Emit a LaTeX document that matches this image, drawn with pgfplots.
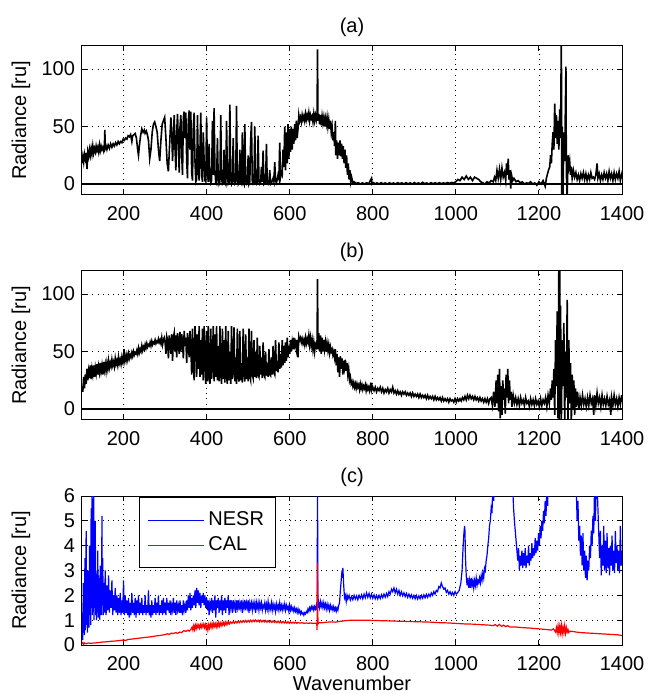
\documentclass[border=0pt]{standalone}
\usepackage{fontspec}
\setmainfont{Liberation Sans}
\usepackage{pgfplots}
\pgfplotsset{compat=1.18}
\usepackage{pgfplotstable}

% panel (a): radiance spectrum
\pgfplotstableread[row sep=\\]{
x y\\
100 18\\ 102 24\\ 104 19\\ 106 26\\ 108 22\\ 110 27\\ 112 13\\ 114 28\\ 116 24\\ 118 30\\ 120 25\\ 122 31\\ 124 26\\ 126 33\\ 128 27\\ 130 31\\
132 28\\ 134 33\\ 136 29\\ 138 32\\ 140 28\\ 142 34\\ 144 29\\ 146 33\\ 148 30\\ 150 32\\ 152 29\\ 154 34\\ 155 47\\ 156 31\\ 158 33\\ 160 30\\
163 34\\ 166 31\\ 169 35\\ 172 32\\ 175 35\\ 178 33\\ 181 36\\ 184 34\\ 187 37\\ 190 35\\ 193 37\\ 196 36\\ 199 39\\ 202 38\\ 205 40\\ 208 39\\
211 42\\ 214 41\\ 217 43\\ 220 37\\ 222 42\\ 225 43\\ 228 44\\ 231 40\\ 234 30\\ 236 25\\ 238 33\\ 241 42\\ 244 48\\ 247 45\\ 250 47\\ 252 44\\
255 46\\ 258 42\\ 260 38\\ 263 22\\ 266 30\\ 269 45\\ 272 52\\ 275 54\\ 278 50\\ 281 45\\ 284 30\\ 287 20\\ 290 38\\ 293 52\\ 296 55\\ 299 58\\
302 40\\ 305 18\\ 308 11\\ 311 35\\ 314 58\\ 316 45\\ 318 20\\ 320 40\\ 322 60\\ 324 30\\ 326 12\\ 328 45\\ 330 61\\ 332 35\\ 334 10\\ 336 50\\
338 60\\ 340 25\\ 342 8\\ 344 58\\ 346 63\\ 348 40\\ 350 62\\ 352 20\\ 354 5\\ 356 55\\ 358 64\\ 360 30\\ 362 63\\ 364 10\\ 366 3\\ 368 50\\
370 62\\ 372 20\\ 374 2\\ 376 4\\ 378 60\\ 380 15\\ 382 3\\ 384 30\\ 386 62\\ 388 8\\ 390 2\\ 392 45\\ 394 20\\ 396 3\\ 398 2\\ 400 58\\
402 10\\ 404 2\\ 406 35\\ 408 5\\ 410 1\\ 412 3\\ 414 55\\ 416 8\\ 418 66\\ 420 12\\ 422 1\\ 424 0\\ 426 40\\ 428 5\\ 430 0\\ 432 2\\
434 60\\ 436 5\\ 438 0\\ 440 1\\ 442 30\\ 444 2\\ 446 0\\ 448 55\\ 450 8\\ 452 0\\ 454 1\\ 456 69\\ 458 4\\ 460 0\\ 462 2\\ 464 40\\
466 3\\ 468 0\\ 470 1\\ 472 68\\ 474 5\\ 476 0\\ 478 2\\ 480 30\\ 482 1\\ 484 0\\ 486 45\\ 488 2\\ 490 0\\ 492 52\\ 494 3\\ 496 0\\
498 1\\ 500 25\\ 502 0\\ 504 2\\ 506 38\\ 508 54\\ 510 2\\ 512 0\\ 514 1\\ 516 50\\ 518 2\\ 520 0\\ 522 1\\ 524 42\\ 526 3\\ 528 0\\
530 1\\ 532 15\\ 534 2\\ 536 29\\ 538 0\\ 540 1\\ 542 2\\ 544 35\\ 546 1\\ 548 0\\ 550 2\\ 552 12\\ 554 0\\ 556 1\\ 558 3\\ 560 5\\
562 2\\ 564 19\\ 566 3\\ 568 1\\ 570 4\\ 572 8\\ 574 5\\ 576 36\\ 578 6\\ 580 10\\ 582 8\\ 584 30\\ 586 15\\ 588 50\\ 590 12\\ 592 45\\
594 18\\ 596 52\\ 598 22\\ 600 48\\ 602 28\\ 604 50\\ 606 30\\ 608 48\\ 610 35\\ 612 52\\ 614 38\\ 616 55\\ 618 40\\ 620 48\\ 622 60\\ 624 55\\
626 58\\ 628 54\\ 630 60\\ 632 56\\ 634 59\\ 636 55\\ 638 61\\ 640 56\\ 642 60\\ 644 57\\ 646 62\\ 648 55\\ 650 60\\ 652 57\\ 654 59\\ 656 54\\
658 61\\ 660 55\\ 662 60\\ 664 56\\ 666 62\\ 667 117\\ 668 55\\ 670 61\\ 672 52\\ 674 60\\ 676 51\\ 678 59\\ 680 53\\ 682 58\\ 684 50\\ 686 57\\
688 52\\ 690 58\\ 692 50\\ 694 56\\ 696 48\\ 698 55\\ 700 45\\ 702 50\\ 704 38\\ 706 45\\ 708 33\\ 710 55\\ 711 25\\ 713 38\\ 715 22\\ 717 36\\
719 25\\ 721 38\\ 723 24\\ 725 35\\ 727 22\\ 729 33\\ 731 18\\ 733 30\\ 735 14\\ 737 25\\ 739 8\\ 741 18\\ 743 4\\ 745 12\\ 747 2\\ 749 6\\
752 1\\ 755 2\\ 760 0.5\\ 765 1.2\\ 770 0\\ 775 1\\ 780 0.2\\ 785 1.1\\ 790 0.3\\ 797 5\\ 798 0\\ 802 1.2\\ 806 0.1\\ 810 1\\ 815 0\\ 820 1.2\\
825 0.2\\ 830 1\\ 835 0\\ 840 1.1\\ 845 0.2\\ 850 1\\ 855 0\\ 860 1.2\\ 865 0.3\\ 870 1\\ 875 0\\ 880 1.2\\ 885 0.2\\ 890 1\\ 895 0\\ 900 1.3\\
905 0.2\\ 910 1\\ 915 0\\ 920 1.5\\ 925 0.3\\ 930 1\\ 935 0\\ 940 1.2\\ 945 0.3\\ 950 1.1\\ 955 0.2\\ 960 1.2\\ 965 0.4\\ 970 1\\ 975 0.5\\ 980 1.3\\
985 0.6\\ 990 1.4\\ 995 1\\ 1000 2\\ 1005 4\\ 1010 3\\ 1015 6\\ 1020 4\\ 1025 7\\ 1030 4\\ 1035 6\\ 1040 3\\ 1045 6\\ 1050 5\\ 1055 4\\ 1060 2\\
1065 1\\ 1070 0\\ 1075 2\\ 1080 1\\ 1085 3\\ 1090 2\\ 1093 6\\ 1096 3\\ 1099 12\\ 1102 5\\ 1105 13\\ 1108 4\\ 1111 14\\ 1114 6\\ 1117 10\\ 1120 3\\
1122 18\\ 1124 8\\ 1126 22\\ 1128 4\\ 1130 12\\ 1132 -4\\ 1134 8\\ 1137 3\\ 1140 5\\ 1145 2\\ 1150 3\\ 1155 1\\ 1160 2\\ 1165 0\\ 1170 1\\ 1175 0.5\\
1180 2\\ 1185 0\\ 1190 1\\ 1195 -1\\ 1200 2\\ 1205 0\\ 1210 3\\ 1215 -2\\ 1218 5\\ 1220 8\\ 1223 12\\ 1226 15\\ 1228 25\\ 1230 18\\ 1232 35\\ 1234 45\\
1236 30\\ 1238 70\\ 1240 40\\ 1242 60\\ 1244 35\\ 1246 55\\ 1248 30\\ 1250 65\\ 1252 40\\ 1254 130\\ 1255 -12\\ 1256 50\\ 1258 -12\\ 1260 45\\ 1262 20\\ 1265 102\\
1266 10\\ 1268 -12\\ 1270 25\\ 1272 15\\ 1274 20\\ 1276 8\\ 1278 15\\ 1280 5\\ 1283 12\\ 1286 6\\ 1289 10\\ 1292 4\\ 1295 8\\ 1298 3\\ 1301 9\\ 1304 5\\
1307 10\\ 1310 4\\ 1313 9\\ 1316 3\\ 1319 8\\ 1322 4\\ 1325 10\\ 1328 5\\ 1331 6\\ 1334 4\\ 1337 8\\ 1340 18\\ 1342 5\\ 1345 9\\ 1348 3\\ 1351 8\\
1354 4\\ 1357 10\\ 1360 5\\ 1363 9\\ 1366 3\\ 1369 11\\ 1372 5\\ 1375 9\\ 1378 3\\ 1381 10\\ 1384 4\\ 1387 9\\ 1390 5\\ 1393 11\\ 1396 3\\ 1399 8\\
1400 5\\
}\radA

% panel (b): radiance spectrum
\pgfplotstableread[row sep=\\]{
x y\\
100 20\\ 102 15\\ 104 28\\ 106 18\\ 108 30\\ 110 22\\ 112 35\\ 114 25\\ 116 33\\ 118 27\\ 120 38\\ 122 26\\ 124 35\\ 126 30\\ 128 38\\ 130 28\\
132 36\\ 134 31\\ 136 39\\ 138 30\\ 140 37\\ 142 32\\ 144 40\\ 146 33\\ 148 38\\ 150 30\\ 152 41\\ 154 34\\ 156 39\\ 158 33\\ 160 40\\ 162 35\\
164 42\\ 166 36\\ 168 40\\ 170 37\\ 172 43\\ 174 38\\ 176 41\\ 178 37\\ 180 44\\ 182 39\\ 184 42\\ 186 38\\ 188 45\\ 190 40\\ 192 43\\ 194 39\\
196 45\\ 198 41\\ 200 44\\ 201 52\\ 202 42\\ 204 46\\ 206 42\\ 208 47\\ 210 43\\ 212 48\\ 214 44\\ 216 47\\ 218 45\\ 220 49\\ 222 46\\ 224 50\\
226 47\\ 228 49\\ 230 48\\ 232 51\\ 234 48\\ 236 53\\ 238 49\\ 240 52\\ 242 50\\ 244 55\\ 246 51\\ 248 54\\ 250 52\\ 252 56\\ 254 53\\ 256 57\\
258 54\\ 260 56\\ 262 55\\ 264 58\\ 266 55\\ 268 59\\ 270 56\\ 272 58\\ 274 57\\ 276 60\\ 278 57\\ 280 59\\ 282 58\\ 284 61\\ 286 58\\ 288 60\\
290 57\\ 292 62\\ 294 56\\ 296 60\\ 298 62\\ 300 58\\ 302 48\\ 304 63\\ 306 60\\ 308 44\\ 310 64\\ 312 58\\ 314 48\\ 316 65\\ 318 42\\ 320 62\\
322 66\\ 324 50\\ 326 64\\ 328 45\\ 330 66\\ 332 60\\ 334 48\\ 336 67\\ 338 50\\ 340 65\\ 342 58\\ 344 44\\ 346 68\\ 348 55\\ 350 62\\ 352 40\\
354 66\\ 356 58\\ 358 45\\ 360 68\\ 362 55\\ 364 30\\ 366 70\\ 368 40\\ 370 25\\ 372 72\\ 374 60\\ 376 28\\ 378 65\\ 380 35\\ 382 72\\ 384 28\\
386 60\\ 388 30\\ 390 70\\ 392 25\\ 394 72\\ 396 40\\ 398 22\\ 400 68\\ 402 24\\ 404 72\\ 406 30\\ 408 22\\ 410 70\\ 412 26\\ 414 40\\ 416 72\\
418 24\\ 420 65\\ 422 28\\ 424 72\\ 426 25\\ 428 55\\ 430 24\\ 432 72\\ 434 30\\ 436 22\\ 438 70\\ 440 26\\ 442 60\\ 444 23\\ 446 72\\ 448 28\\
450 22\\ 452 68\\ 454 25\\ 456 50\\ 458 22\\ 460 72\\ 462 26\\ 464 35\\ 466 71\\ 468 24\\ 470 45\\ 472 22\\ 474 70\\ 476 28\\ 478 24\\ 480 68\\
482 25\\ 484 40\\ 486 23\\ 488 70\\ 490 30\\ 492 24\\ 494 65\\ 496 26\\ 498 45\\ 500 24\\ 502 70\\ 504 28\\ 506 25\\ 508 68\\ 510 30\\ 512 27\\
514 60\\ 516 28\\ 518 50\\ 520 27\\ 522 62\\ 524 30\\ 526 28\\ 528 55\\ 530 30\\ 532 45\\ 534 27\\ 536 58\\ 538 30\\ 540 28\\ 542 50\\ 544 29\\
546 40\\ 548 28\\ 550 52\\ 552 30\\ 554 29\\ 556 45\\ 558 30\\ 560 55\\ 562 32\\ 564 30\\ 566 60\\ 568 33\\ 570 42\\ 572 32\\ 574 58\\ 576 35\\
578 48\\ 580 36\\ 582 60\\ 584 38\\ 586 55\\ 588 40\\ 590 58\\ 592 42\\ 594 62\\ 596 45\\ 598 55\\ 600 48\\ 602 60\\ 604 50\\ 606 58\\ 608 52\\
610 62\\ 612 55\\ 614 58\\ 616 52\\ 618 60\\ 620 45\\ 622 63\\ 624 60\\ 626 62\\ 628 58\\ 630 61\\ 632 57\\ 634 60\\ 636 56\\ 638 62\\ 640 57\\
642 61\\ 644 58\\ 646 64\\ 648 56\\ 650 62\\ 652 55\\ 654 60\\ 656 52\\ 658 58\\ 660 50\\ 662 56\\ 664 54\\ 666 60\\ 667 113\\ 668 52\\ 670 66\\
672 50\\ 674 64\\ 676 48\\ 678 62\\ 680 50\\ 682 60\\ 684 52\\ 686 58\\ 688 50\\ 690 57\\ 692 51\\ 694 56\\ 696 49\\ 698 54\\ 700 50\\ 702 52\\
704 47\\ 706 50\\ 708 45\\ 710 52\\ 712 38\\ 714 48\\ 716 32\\ 718 45\\ 720 28\\ 722 46\\ 724 35\\ 726 44\\ 728 30\\ 730 42\\ 732 36\\ 734 43\\
736 33\\ 738 40\\ 740 30\\ 742 35\\ 744 25\\ 746 28\\ 748 22\\ 750 24\\ 752 20\\ 754 23\\ 756 19\\ 758 22\\ 760 18\\ 762 22\\ 764 19\\ 766 21\\
768 17\\ 770 22\\ 772 18\\ 774 21\\ 776 17\\ 778 20\\ 780 18\\ 782 21\\ 784 16\\ 786 20\\ 788 17\\ 790 19\\ 792 16\\ 794 20\\ 796 17\\ 797 23\\
798 17\\ 800 19\\ 803 16\\ 806 19\\ 809 15\\ 812 18\\ 815 16\\ 818 19\\ 821 15\\ 824 18\\ 827 14\\ 830 17\\ 833 15\\ 836 18\\ 839 14\\ 842 17\\
845 15\\ 848 19\\ 851 14\\ 854 16\\ 857 13\\ 860 16\\ 863 13\\ 866 15\\ 869 12\\ 872 15\\ 875 13\\ 878 15\\ 881 12\\ 884 14\\ 887 12\\ 890 14\\
893 11\\ 896 14\\ 899 11\\ 902 13\\ 905 11\\ 908 13\\ 911 10\\ 914 13\\ 917 10\\ 920 12\\ 923 10\\ 926 12\\ 929 9\\ 932 12\\ 935 9\\ 938 11\\
941 9\\ 944 11\\ 947 8\\ 950 11\\ 953 8\\ 956 10\\ 959 8\\ 962 10\\ 965 7\\ 968 10\\ 971 7\\ 974 9\\ 977 7\\ 980 9\\ 983 6\\ 986 9\\
989 7\\ 992 8\\ 995 6\\ 998 9\\ 1001 6\\ 1004 9\\ 1007 7\\ 1010 9\\ 1013 7\\ 1016 10\\ 1019 8\\ 1022 11\\ 1025 8\\ 1028 12\\ 1031 9\\ 1034 12\\
1037 9\\ 1040 11\\ 1043 8\\ 1046 11\\ 1049 8\\ 1052 10\\ 1055 7\\ 1058 10\\ 1061 7\\ 1064 9\\ 1067 6\\ 1070 9\\ 1073 6\\ 1076 9\\ 1079 5\\ 1082 9\\
1085 10\\ 1088 3\\ 1091 15\\ 1094 2\\ 1097 25\\ 1099 5\\ 1101 30\\ 1103 -2\\ 1105 35\\ 1107 -8\\ 1109 20\\ 1111 -5\\ 1113 25\\ 1115 8\\ 1117 18\\ 1119 -4\\
1121 30\\ 1123 10\\ 1125 35\\ 1127 5\\ 1129 25\\ 1131 8\\ 1133 15\\ 1135 2\\ 1138 12\\ 1141 5\\ 1144 10\\ 1147 4\\ 1150 9\\ 1153 3\\ 1156 10\\ 1159 5\\
1162 8\\ 1165 3\\ 1168 10\\ 1171 5\\ 1174 7\\ 1177 2\\ 1180 9\\ 1183 4\\ 1186 8\\ 1189 3\\ 1192 9\\ 1195 4\\ 1198 7\\ 1201 2\\ 1204 9\\ 1207 3\\
1210 8\\ 1213 5\\ 1216 10\\ 1219 2\\ 1222 12\\ 1225 5\\ 1228 18\\ 1230 8\\ 1232 25\\ 1234 10\\ 1236 35\\ 1238 -5\\ 1240 60\\ 1242 20\\ 1244 85\\ 1246 -8\\
1248 130\\ 1249 -12\\ 1250 130\\ 1251 0\\ 1252 90\\ 1254 -12\\ 1256 60\\ 1258 20\\ 1260 75\\ 1262 -12\\ 1264 50\\ 1266 10\\ 1268 95\\ 1270 -12\\ 1272 60\\ 1274 5\\
1276 40\\ 1278 -12\\ 1280 30\\ 1282 0\\ 1284 25\\ 1286 -5\\ 1288 18\\ 1290 2\\ 1293 15\\ 1296 0\\ 1299 10\\ 1302 3\\ 1305 12\\ 1308 4\\ 1311 9\\ 1314 2\\
1317 10\\ 1320 3\\ 1323 12\\ 1326 5\\ 1329 9\\ 1332 -5\\ 1334 12\\ 1337 3\\ 1340 14\\ 1343 5\\ 1346 10\\ 1349 2\\ 1352 12\\ 1355 4\\ 1358 9\\ 1361 3\\
1364 11\\ 1367 4\\ 1370 8\\ 1373 -5\\ 1375 10\\ 1378 3\\ 1381 12\\ 1384 4\\ 1387 9\\ 1390 2\\ 1393 10\\ 1396 4\\ 1399 12\\ 1400 6\\
}\radB

% panel (c): NESR
\pgfplotstableread[row sep=\\]{
x y\\
100 0.3\\ 101 1.3\\ 102 0.2\\ 103 2.5\\ 104 0.5\\ 105 1.8\\ 106 0.4\\ 107 3.5\\ 108 0.6\\ 109 2.2\\ 110 4.6\\ 111 0.8\\ 112 2.0\\ 113 0.5\\ 114 3.0\\ 115 1.0\\
116 2.5\\ 117 0.7\\ 118 4.0\\ 119 1.2\\ 120 3.5\\ 121 0.8\\ 122 5.5\\ 123 1.5\\ 124 6.2\\ 125 1.2\\ 126 4.5\\ 127 2.0\\ 128 6.2\\ 129 1.0\\ 130 3.5\\ 131 1.5\\
132 5.0\\ 133 1.2\\ 134 3.0\\ 135 1.0\\ 136 2.6\\ 137 1.3\\ 138 3.8\\ 139 1.1\\ 140 2.8\\ 141 1.5\\ 142 2.5\\ 143 1.0\\ 144 3.2\\ 145 1.3\\ 146 2.6\\ 147 1.2\\
148 5.2\\ 149 1.6\\ 150 3.5\\ 151 1.2\\ 152 2.5\\ 154 1.3\\ 156 3.0\\ 158 1.2\\ 160 2.4\\ 162 1.4\\ 164 2.8\\ 166 1.3\\ 168 2.2\\ 170 1.5\\ 172 2.6\\ 174 1.2\\
176 2.0\\ 178 1.4\\ 180 2.3\\ 182 1.3\\ 184 2.0\\ 186 1.2\\ 188 1.9\\ 190 1.3\\ 192 2.1\\ 194 1.2\\ 196 1.8\\ 198 1.3\\ 200 2.6\\ 202 1.2\\ 204 2.0\\ 206 1.3\\
208 1.8\\ 210 1.2\\ 212 1.9\\ 214 1.1\\ 216 1.7\\ 218 1.2\\ 220 2.1\\ 222 1.3\\ 224 1.7\\ 226 1.2\\ 228 1.9\\ 230 1.1\\ 232 1.8\\ 234 1.3\\ 236 2.0\\ 238 1.2\\
240 1.7\\ 242 1.3\\ 244 1.9\\ 246 1.2\\ 248 1.6\\ 250 1.3\\ 252 2.0\\ 254 1.2\\ 256 1.6\\ 258 1.3\\ 260 2.2\\ 262 1.2\\ 264 1.6\\ 266 1.1\\ 268 1.8\\ 270 1.2\\
272 1.6\\ 274 1.3\\ 276 1.9\\ 278 1.2\\ 280 1.7\\ 282 1.3\\ 284 2.0\\ 286 1.2\\ 288 1.6\\ 290 1.3\\ 292 1.8\\ 294 1.2\\ 296 1.9\\ 298 1.3\\ 300 1.7\\ 302 1.2\\
304 1.9\\ 306 1.4\\ 308 1.7\\ 310 1.3\\ 312 1.8\\ 314 1.2\\ 316 1.6\\ 318 1.4\\ 320 1.9\\ 322 1.3\\ 324 1.7\\ 326 1.2\\ 328 1.8\\ 330 1.4\\ 332 1.6\\ 334 1.3\\
336 1.8\\ 338 1.3\\ 340 1.6\\ 342 1.2\\ 344 1.8\\ 346 1.4\\ 348 1.6\\ 350 1.3\\ 352 1.8\\ 354 1.4\\ 356 2.0\\ 358 1.5\\ 360 2.1\\ 362 1.4\\ 364 1.9\\ 366 1.5\\
368 2.0\\ 370 1.6\\ 372 2.2\\ 374 1.5\\ 376 2.3\\ 378 1.7\\ 380 2.2\\ 382 1.6\\ 384 2.1\\ 386 1.5\\ 388 2.0\\ 390 1.7\\ 392 2.1\\ 394 1.6\\ 396 2.0\\ 398 1.5\\
400 1.9\\ 402 1.4\\ 404 1.8\\ 406 1.2\\ 408 1.7\\ 410 1.5\\ 412 1.9\\ 414 1.3\\ 416 1.8\\ 418 1.4\\ 420 2.0\\ 422 1.1\\ 424 1.8\\ 426 1.5\\ 428 1.9\\ 430 1.3\\
432 1.8\\ 434 1.4\\ 436 2.0\\ 438 1.2\\ 440 1.8\\ 442 1.4\\ 444 1.9\\ 446 1.3\\ 448 1.8\\ 450 1.5\\ 452 2.0\\ 454 1.2\\ 456 1.8\\ 458 1.5\\ 460 1.8\\ 462 1.3\\
464 1.8\\ 466 1.5\\ 468 1.7\\ 470 1.3\\ 472 1.8\\ 474 1.5\\ 476 1.8\\ 478 1.4\\ 480 1.7\\ 482 1.5\\ 484 1.8\\ 486 1.3\\ 488 1.7\\ 490 1.5\\ 492 1.8\\ 494 1.4\\
496 1.7\\ 498 1.5\\ 500 1.8\\ 502 1.3\\ 504 1.7\\ 506 1.5\\ 508 1.7\\ 510 1.4\\ 512 1.7\\ 514 1.5\\ 516 1.7\\ 518 1.3\\ 520 1.7\\ 522 1.5\\ 524 1.7\\ 526 1.4\\
528 1.7\\ 530 1.5\\ 532 1.7\\ 534 1.4\\ 536 1.6\\ 538 1.5\\ 540 1.7\\ 542 1.4\\ 544 1.65\\ 546 1.45\\ 548 1.75\\ 550 1.4\\ 552 1.6\\ 554 1.45\\ 556 1.7\\ 558 1.4\\
560 1.65\\ 562 1.45\\ 564 1.6\\ 566 1.35\\ 568 1.65\\ 570 1.45\\ 572 1.6\\ 574 1.4\\ 576 1.7\\ 578 1.45\\ 580 1.6\\ 582 1.4\\ 584 1.6\\ 586 1.45\\ 588 1.65\\ 590 1.4\\
592 1.6\\ 594 1.45\\ 596 1.55\\ 598 1.35\\ 600 1.6\\ 602 1.4\\ 604 1.55\\ 606 1.4\\ 608 1.5\\ 610 1.35\\ 612 1.5\\ 614 1.35\\ 616 1.45\\ 618 1.3\\ 620 1.45\\ 622 1.3\\
624 1.4\\ 626 1.25\\ 628 1.35\\ 630 1.25\\ 632 1.3\\ 634 1.2\\ 636 1.3\\ 638 1.25\\ 640 1.35\\ 642 1.3\\ 644 1.45\\ 646 1.35\\ 648 1.5\\ 650 1.4\\ 652 1.55\\ 654 1.45\\
656 1.55\\ 658 1.4\\ 660 1.55\\ 662 1.45\\ 664 1.6\\ 666 1.4\\ 667 6.5\\ 668 1.5\\ 670 1.7\\ 672 1.5\\ 674 1.75\\ 676 1.55\\ 678 1.7\\ 680 1.5\\ 682 1.7\\ 684 1.5\\
686 1.65\\ 688 1.45\\ 690 1.65\\ 692 1.45\\ 694 1.6\\ 696 1.4\\ 698 1.6\\ 700 1.45\\ 702 1.55\\ 704 1.4\\ 706 1.55\\ 708 1.4\\ 710 1.5\\ 712 1.35\\ 714 1.5\\ 716 1.4\\
718 1.6\\ 720 1.7\\ 722 2.2\\ 724 2.6\\ 726 3.0\\ 727 2.7\\ 728 3.1\\ 730 2.4\\ 732 1.9\\ 734 2.0\\ 736 1.75\\ 738 2.0\\ 740 1.85\\ 743 2.0\\ 746 1.8\\ 749 1.95\\
752 1.82\\ 755 2.0\\ 758 1.85\\ 761 1.98\\ 764 1.82\\ 767 2.0\\ 770 1.88\\ 773 2.02\\ 776 1.86\\ 779 2.05\\ 782 1.9\\ 785 2.1\\ 788 1.92\\ 791 2.08\\ 794 1.9\\ 797 2.05\\
800 1.88\\ 803 2.02\\ 806 1.86\\ 809 2.0\\ 812 1.85\\ 815 2.0\\ 818 1.87\\ 821 2.03\\ 824 1.9\\ 827 2.05\\ 830 1.92\\ 833 2.08\\ 836 1.95\\ 839 2.15\\ 842 2.05\\ 845 2.25\\
848 2.15\\ 851 2.3\\ 854 2.1\\ 857 2.25\\ 860 2.05\\ 863 2.2\\ 866 2.0\\ 869 2.15\\ 872 1.98\\ 875 2.1\\ 878 1.95\\ 881 2.08\\ 884 1.92\\ 887 2.05\\ 890 1.9\\ 893 2.02\\
896 1.88\\ 899 2.0\\ 902 1.86\\ 905 2.0\\ 908 1.85\\ 911 1.98\\ 914 1.86\\ 917 2.0\\ 920 1.88\\ 923 2.02\\ 926 1.9\\ 929 2.04\\ 932 1.92\\ 935 2.05\\ 938 1.95\\ 941 2.1\\
944 2.0\\ 947 2.15\\ 950 2.05\\ 953 2.2\\ 956 2.15\\ 959 2.35\\ 962 2.3\\ 965 2.5\\ 968 2.35\\ 971 2.25\\ 974 2.3\\ 977 2.12\\ 980 2.2\\ 983 2.05\\ 986 2.15\\ 989 2.02\\
992 2.12\\ 995 2.0\\ 998 2.15\\ 1001 2.05\\ 1004 2.1\\ 1008 2.2\\ 1012 2.5\\ 1015 3.0\\ 1017 3.8\\ 1019 4.4\\ 1021 4.8\\ 1022 4.6\\ 1023 3.6\\ 1025 2.8\\ 1027 2.4\\ 1029 2.7\\
1031 2.3\\ 1033 2.6\\ 1035 2.3\\ 1037 2.7\\ 1039 2.4\\ 1041 2.6\\ 1043 2.3\\ 1045 2.6\\ 1047 2.4\\ 1049 2.7\\ 1051 2.4\\ 1053 2.6\\ 1055 2.5\\ 1057 2.7\\ 1059 2.5\\ 1061 2.8\\
1063 2.6\\ 1065 2.9\\ 1067 2.7\\ 1069 3.1\\ 1071 3.0\\ 1073 3.4\\ 1075 3.6\\ 1077 4.0\\ 1079 4.3\\ 1081 4.8\\ 1083 5.0\\ 1085 5.5\\ 1087 5.3\\ 1089 6.5\\ 1091 5.8\\ 1093 7.0\\
1100 8.0\\ 1120 9.0\\ 1135 7.0\\ 1137 6.3\\ 1139 5.5\\ 1141 5.0\\ 1143 4.6\\ 1145 4.2\\ 1147 3.8\\ 1149 3.4\\ 1151 3.9\\ 1153 3.0\\ 1155 3.6\\ 1157 3.2\\ 1159 3.8\\ 1161 3.1\\
1163 3.7\\ 1165 3.2\\ 1167 3.9\\ 1169 3.1\\ 1171 3.6\\ 1173 3.3\\ 1175 4.0\\ 1177 3.2\\ 1179 3.7\\ 1181 3.4\\ 1183 4.1\\ 1185 3.5\\ 1187 3.9\\ 1189 3.6\\ 1191 4.3\\ 1193 3.7\\
1195 4.2\\ 1197 3.8\\ 1199 4.5\\ 1201 4.0\\ 1203 4.8\\ 1205 4.3\\ 1207 5.0\\ 1209 4.6\\ 1211 5.4\\ 1213 4.9\\ 1215 5.8\\ 1217 5.2\\ 1219 6.2\\ 1221 5.6\\ 1223 7.0\\ 1240 8.0\\
1270 8.0\\ 1288 7.0\\ 1290 6.2\\ 1292 5.0\\ 1294 5.8\\ 1296 4.2\\ 1298 4.8\\ 1300 3.6\\ 1302 4.4\\ 1304 3.2\\ 1306 4.5\\ 1308 3.0\\ 1310 3.8\\ 1312 2.7\\ 1314 3.6\\ 1316 2.6\\
1318 3.4\\ 1320 3.0\\ 1322 4.0\\ 1324 3.5\\ 1326 4.6\\ 1328 4.0\\ 1330 5.2\\ 1332 4.5\\ 1334 6.5\\ 1336 5.0\\ 1338 6.5\\ 1340 6.5\\ 1342 5.5\\ 1344 4.5\\ 1346 3.5\\ 1348 4.6\\
1350 2.8\\ 1352 4.0\\ 1354 3.2\\ 1356 4.8\\ 1358 3.0\\ 1360 4.2\\ 1362 2.9\\ 1364 4.5\\ 1366 3.1\\ 1368 3.9\\ 1370 2.8\\ 1372 4.0\\ 1374 3.2\\ 1376 4.4\\ 1378 3.0\\ 1380 3.8\\
1382 2.9\\ 1384 4.6\\ 1386 3.3\\ 1388 4.0\\ 1390 3.0\\ 1392 3.8\\ 1394 2.9\\ 1396 4.8\\ 1398 3.2\\ 1400 3.8\\
}\nesr

% panel (c): CAL
\pgfplotstableread[row sep=\\]{
x y\\
100 0.05\\ 102 0.1\\ 104 0.02\\ 106 0.08\\ 110 0.05\\ 115 0.08\\ 120 0.07\\ 130 0.08\\ 140 0.1\\ 150 0.12\\ 160 0.13\\ 170 0.15\\ 180 0.16\\ 190 0.18\\ 200 0.2\\ 205 0.18\\
210 0.22\\ 220 0.24\\ 230 0.26\\ 240 0.28\\ 250 0.3\\ 260 0.32\\ 270 0.34\\ 280 0.37\\ 290 0.39\\ 300 0.42\\ 305 0.45\\ 310 0.43\\ 315 0.48\\ 320 0.46\\ 325 0.5\\ 330 0.47\\
335 0.52\\ 340 0.5\\ 345 0.58\\ 350 0.55\\ 355 0.6\\ 358 0.56\\ 362 0.62\\ 365 0.72\\ 367 0.6\\ 369 0.78\\ 371 0.62\\ 373 0.8\\ 375 0.66\\ 377 0.82\\ 379 0.7\\ 381 0.8\\
383 0.68\\ 385 0.82\\ 387 0.7\\ 389 0.83\\ 391 0.72\\ 393 0.84\\ 395 0.7\\ 397 0.82\\ 399 0.65\\ 401 0.8\\ 403 0.6\\ 405 0.82\\ 407 0.68\\ 409 0.85\\ 411 0.72\\ 413 0.86\\
415 0.7\\ 417 0.87\\ 419 0.75\\ 421 0.86\\ 423 0.72\\ 425 0.88\\ 427 0.74\\ 429 0.9\\ 431 0.76\\ 433 0.88\\ 435 0.78\\ 437 0.9\\ 439 0.8\\ 441 0.9\\ 443 0.8\\ 445 0.92\\
447 0.82\\ 449 0.92\\ 451 0.84\\ 453 0.93\\ 455 0.85\\ 458 0.93\\ 461 0.87\\ 464 0.94\\ 467 0.88\\ 470 0.95\\ 473 0.89\\ 476 0.96\\ 479 0.9\\ 482 0.97\\ 485 0.91\\ 488 0.98\\
491 0.92\\ 494 0.99\\ 497 0.92\\ 500 0.99\\ 503 0.93\\ 506 1.0\\ 509 0.93\\ 512 1.0\\ 515 0.94\\ 518 1.01\\ 521 0.94\\ 524 1.0\\ 527 0.93\\ 530 1.0\\ 533 0.93\\ 536 0.99\\
539 0.93\\ 542 0.99\\ 545 0.92\\ 548 0.98\\ 551 0.92\\ 554 0.98\\ 557 0.91\\ 560 0.97\\ 563 0.91\\ 566 0.96\\ 569 0.9\\ 572 0.96\\ 575 0.9\\ 578 0.95\\ 581 0.89\\ 584 0.95\\
587 0.89\\ 590 0.94\\ 593 0.88\\ 596 0.94\\ 599 0.88\\ 602 0.93\\ 605 0.88\\ 608 0.92\\ 611 0.88\\ 614 0.92\\ 617 0.87\\ 620 0.91\\ 625 0.88\\ 630 0.9\\ 635 0.87\\ 640 0.89\\
645 0.87\\ 650 0.89\\ 655 0.87\\ 660 0.88\\ 665 0.88\\ 666 0.6\\ 667 3.3\\ 668 0.85\\ 670 0.9\\ 680 0.9\\ 690 0.92\\ 700 0.93\\ 710 0.92\\ 720 0.95\\ 730 0.97\\ 740 0.99\\
750 1.0\\ 760 1.0\\ 770 1.0\\ 780 1.0\\ 800 0.99\\ 820 0.98\\ 840 0.97\\ 860 0.96\\ 880 0.95\\ 900 0.94\\ 920 0.93\\ 940 0.92\\ 960 0.9\\ 980 0.89\\ 1000 0.87\\ 1020 0.85\\
1040 0.84\\ 1060 0.82\\ 1080 0.8\\ 1090 0.78\\ 1095 0.82\\ 1100 0.76\\ 1105 0.83\\ 1110 0.75\\ 1115 0.8\\ 1120 0.74\\ 1125 0.78\\ 1130 0.72\\ 1140 0.73\\ 1160 0.7\\ 1180 0.68\\ 1200 0.65\\
1220 0.62\\ 1230 0.6\\ 1235 0.65\\ 1240 0.52\\ 1242 0.7\\ 1244 0.5\\ 1246 0.78\\ 1248 0.48\\ 1250 0.75\\ 1252 0.5\\ 1254 0.8\\ 1256 0.45\\ 1258 0.72\\ 1260 0.5\\ 1262 0.78\\ 1264 0.48\\
1266 0.7\\ 1268 0.52\\ 1270 0.62\\ 1272 0.5\\ 1275 0.56\\ 1280 0.55\\ 1290 0.52\\ 1300 0.5\\ 1320 0.48\\ 1340 0.46\\ 1360 0.44\\ 1380 0.42\\ 1390 0.41\\ 1400 0.38\\
}\cal

\pgfplotsset{
  spec/.style={
    scale only axis, width=270pt, height=74.5pt,
    xmin=100, xmax=1400, xtick={200,400,...,1400},
    grid=major,
    grid style={black, line width=0.4pt, dash pattern=on 0.4pt off 2.2pt},
    tick align=inside, major tick length=2.5pt,
    tick style={black, line width=0.5pt},
    axis line style={line width=0.5pt},
    every tick label/.append style={font=\fontsize{10}{12}\selectfont},
    xticklabel style={yshift=-2pt},
    /pgf/number format/assume math mode=true,
    /pgf/number format/1000 sep={},
    ylabel={Radiance [ru]},
    y label style={at={(axis description cs:-0.113,0.5)}, anchor=center, font=\fontsize{10}{12}\selectfont},
    title style={font=\fontsize{10}{12}\selectfont, yshift=-5pt},
  },
}

\begin{document}
\begin{tikzpicture}
\useasboundingbox (-41pt,-249.5pt) rectangle (282.5pt,97.5pt);

\begin{axis}[spec, title={(a)}, ymin=-9.5, ymax=120, ytick={0,50,100}]
  \addplot[black, line width=0.8pt] table {\radA};
  \addplot[black, line width=0.7pt] coordinates {(100,0) (1400,0)};
\end{axis}

\begin{axis}[spec, at={(0,-112.5pt)}, title={(b)}, ymin=-9.5, ymax=120, ytick={0,50,100}]
  \addplot[black, line width=0.8pt] table {\radB};
  \addplot[black, line width=0.7pt] coordinates {(100,0) (1400,0)};
\end{axis}

\begin{axis}[spec, at={(0,-225pt)}, title={(c)}, ymin=0, ymax=6, ytick={0,1,...,6},
    xlabel={Wavenumber},
    x label style={at={(axis description cs:0.5,0)}, anchor=center, yshift=-19pt, font=\fontsize{10}{12}\selectfont},
    legend style={at={(0.105,0.99)}, anchor=north west, draw=black, line width=0.5pt,
      fill=white, font=\fontsize{10}{12}\selectfont, inner xsep=4pt, inner ysep=5pt,
      /tikz/column 2/.style={column sep=2pt}},
    legend cell align=left,
    legend image code/.code={\draw[#1] (0pt,0pt) -- (28pt,0pt);}]
  \addplot[blue, line width=0.6pt] table {\nesr};
  \addlegendentry{NESR}
  \addplot[red, line width=0.6pt] table {\cal};
  \addlegendentry{CAL}
\end{axis}
\end{tikzpicture}
\end{document}
